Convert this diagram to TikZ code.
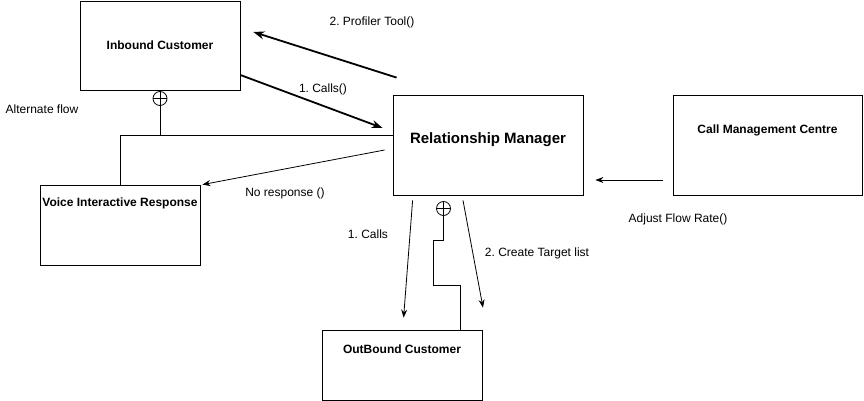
\documentclass[tikz,border=0pt]{standalone}
\usepackage{fontspec}
\setmainfont{Liberation Sans}
\usetikzlibrary{arrows.meta}
\frenchspacing
\begin{document}
\begin{tikzpicture}[x=1pt, y=-1pt, line width=0.8pt, font=\fontsize{12}{14}\selectfont,
  box/.style={draw, rectangle, inner sep=0pt},
  title/.style={font=\fontsize{12}{14}\selectfont\bfseries},
  msg/.style={-{Stealth[length=8pt,width=6pt]}},
  bigmsg/.style={-{Stealth[length=11pt,width=8pt]}, line width=1.8pt},
  oplus/.style={draw, circle, minimum size=14pt, inner sep=0pt,
    path picture={\draw (path picture bounding box.north) -- (path picture bounding box.south)
      (path picture bounding box.west) -- (path picture bounding box.east);}}]
\useasboundingbox (0,0) rectangle (864,401);
% Cajas
\node [box, minimum width=160pt, minimum height=89pt,
  label={[title]center:Inbound Customer}] (ib) at (160,45.5) {};
\node [box, minimum width=190pt, minimum height=100pt,
  label={[title, font=\fontsize{15}{17}\selectfont\bfseries, yshift=5pt]center:Relationship Manager}] (rm) at (488,145) {};
\node [box, minimum width=189pt, minimum height=100pt,
  label={[title, yshift=15pt]center:Call Management Centre}] (cmc) at (767.5,145) {};
\node [box, minimum width=160pt, minimum height=80pt,
  label={[title, yshift=22pt]center:Voice Interactive Response}] (vir) at (120,225) {};
\node [box, minimum width=160pt, minimum height=70pt,
  label={[title, yshift=16pt]center:OutBound Customer}] (out) at (402,365) {};
% Flujo alterno
\node [oplus] (cp1) at (160,98.5) {};
\coordinate (j1) at (160,135);
\coordinate (j2) at (120,135);
\draw (cp1) -- (j1);
\draw (j2) -- (rm.west |- j2);
\draw (j2) -- (vir.north);
\node (alt) at (42,109) {Alternate flow};
\node [oplus] (cp2) at (443.5,208.5) {};
\coordinate (s1) at (433,240);
\coordinate (s2) at (460,285);
\draw (cp2) -- (cp2 |- s1) -- (s1) -- (s1 |- s2) -- (s2) -- (s2 |- out.north);
% Mensajes
\draw [bigmsg] ([yshift=-29.5pt]ib.east) -- ([xshift=-10pt, yshift=17pt]rm.west);
\node (m1) at (323,89) {1. Calls()};
\draw [bigmsg] ([xshift=4pt, yshift=17pt]rm.north west) -- ([xshift=13pt, yshift=13.5pt]ib.east);
\node (m2) at (372,22) {2. Profiler Tool()};
\draw [msg] ([xshift=-8pt, yshift=-5pt]rm.west) -- ([xshift=2pt]vir.north east);
\node (m3) at (285,193) {No response ()};
\draw [msg] ([xshift=-10pt, yshift=-35pt]cmc.west) -- ([xshift=12pt, yshift=-35pt]rm.east);
\node (m4) at (678,219) {Adjust Flow Rate()};
\draw [msg] ([xshift=20pt, yshift=-5pt]rm.south west) -- ([xshift=82pt, yshift=12pt]out.north west);
\node (m5) at (368,234) {1. Calls};
\draw [msg] ([xshift=-25pt, yshift=-5pt]rm.south) -- ([xshift=81pt, yshift=22pt]out.north);
\node (m6) at (537,253) {2. Create Target list};
\end{tikzpicture}
\end{document}
